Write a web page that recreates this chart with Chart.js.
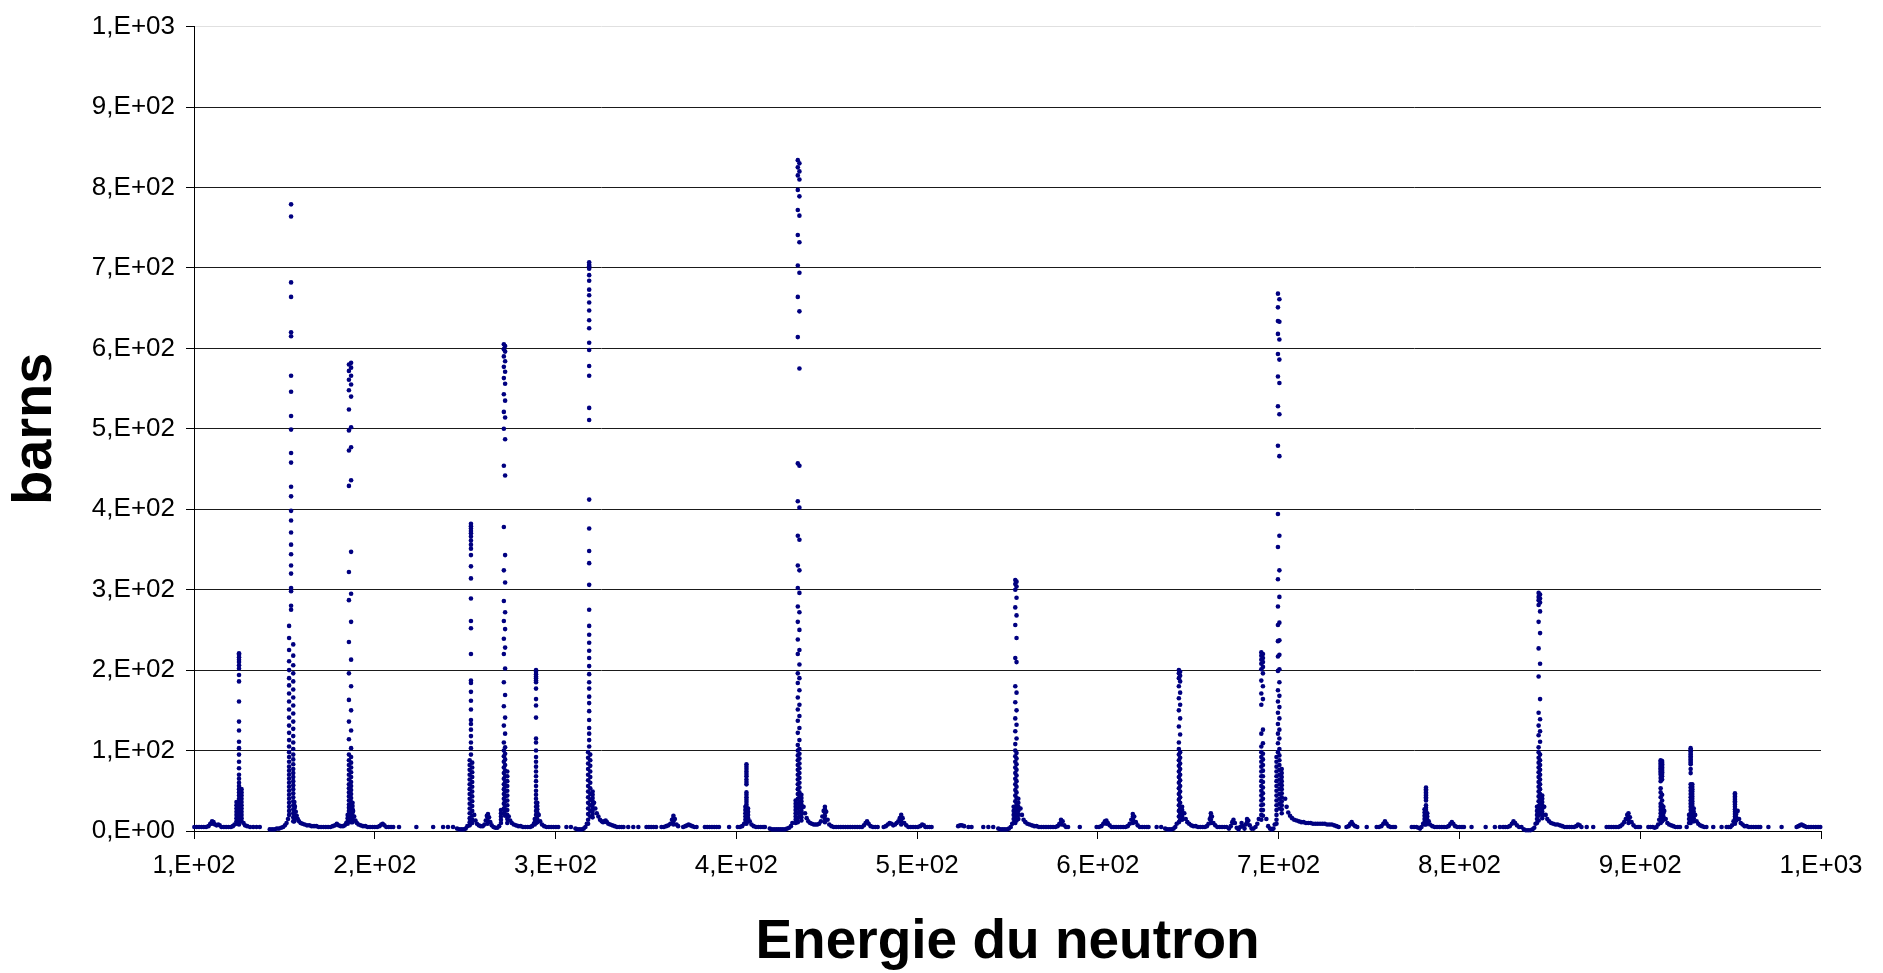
<!DOCTYPE html>
<html>
<head>
<meta charset="utf-8">
<title>Energie du neutron</title>
<script src="https://cdn.jsdelivr.net/npm/chart.js@4.4.1/dist/chart.umd.min.js"></script>
<style>
  html, body { margin: 0; padding: 0; background: #fff; }
  #wrap { width: 1883px; height: 973px; }
</style>
</head>
<body>
<div id="wrap"><canvas id="xsChart" width="1883" height="973"></canvas></div>
<script>
// axis ticks (eV and barns)
const energyTicks = [100, 200, 300, 400, 500, 600, 700, 800, 900, 1000];
const barnTicks = [0, 100, 200, 300, 400, 500, 600, 700, 800, 900, 1000];

// continuum between the resonances (energy in eV, cross section in barns)
const cont100E = [100.2, 101.5, 102.8, 104.1, 105.4, 106.7, 108.0, 109.0, 110.0, 110.8, 111.6, 112.5, 113.4, 114.2, 115.2, 116.5, 117.8, 119.1, 120.4, 121.5, 122.4,
  127.4, 128.2, 129.4, 131.0, 132.8, 134.6, 136.4,
  141.9, 143.2, 144.5, 145.8, 147.0, 148.2, 149.3, 150.3, 151.2, 152.0,
  155.8, 156.3, 156.8, 157.4, 158.1, 159.0, 160.0, 161.2, 162.5, 163.8, 165.1, 166.4, 167.7, 169.0, 170.3, 171.6, 172.9, 174.2, 175.5, 176.8, 178.0, 179.0, 180.0, 181.2, 182.4, 183.4, 184.2,
  188.0, 188.6, 189.3, 190.1, 191.0, 192.2, 193.5, 194.8, 196.1, 197.4, 198.7];
const cont100S = [5, 5, 5, 5, 5, 5, 6, 9, 12, 11, 8, 7, 8, 7, 5, 5, 5, 5, 5, 6, 8,
  10, 7, 6, 5, 5, 5, 5,
  2, 2, 2, 3, 3, 4, 5, 7, 10, 15,
  30, 24, 19, 15, 12, 10, 9, 8, 7, 7, 6, 6, 6, 5, 5, 5, 5, 5, 5, 6, 7, 9, 7, 6, 6, 7, 10,
  25, 18, 13, 10, 8, 7, 6, 6, 5, 5, 5];

const cont200E = [200.0, 201.3, 202.6, 203.6, 204.4, 205.3, 206.4, 207.7, 209.0, 210.2,
  213.4, 223.0, 232.3, 237.8, 240.5, 243.3,
  245.5, 246.8, 248.0, 249.2, 250.3, 251.2,
  255.0, 255.7, 256.5, 257.5, 258.6, 259.7, 260.7, 261.4, 262.0, 262.6, 263.2, 263.9, 264.7, 265.7, 266.7, 267.8, 268.8,
  274.1, 274.9, 275.8, 276.9, 278.1, 279.4, 280.7, 282.0, 283.3, 284.6, 285.9, 287.0, 288.0,
  290.7, 291.5, 292.5, 293.7, 295.0, 296.3, 297.6, 298.9];
const cont200S = [5, 5, 6, 8, 9, 7, 5, 5, 5, 5,
  5, 5, 5, 5, 5, 5,
  3, 2, 2, 2, 3, 6,
  20, 13, 9, 7, 6, 6, 8, 13, 19, 21, 17, 11, 7, 5, 4, 4, 6,
  18, 13, 10, 8, 7, 6, 6, 5, 5, 5, 5, 6, 9,
  20, 12, 8, 6, 5, 5, 5, 5];

const cont300E = [300.2, 301.5, 306.0, 308.5,
  311.0, 312.2, 313.4, 314.6, 315.6, 316.5, 317.3,
  321.3, 322.0, 322.8, 323.7, 324.6, 325.5, 326.3, 327.0, 327.7, 328.4, 329.2, 330.2, 331.4, 332.7, 334.0, 335.3, 336.6, 337.6,
  340.2, 343.0, 345.8, 350.3, 351.6, 352.9, 354.2, 355.6,
  358.6, 359.9, 361.2, 362.4, 363.5, 364.4, 365.2, 366.0, 366.9, 367.8,
  370.6, 371.8, 372.8, 373.6, 374.5, 375.6, 376.8, 378.0,
  382.6, 383.9, 385.2, 386.5, 387.8, 389.1, 390.4, 396.0];
const cont300S = [5, 5, 5, 5,
  3, 2, 2, 2, 3, 5, 9,
  35, 28, 22, 18, 14, 12, 11, 12, 13, 11, 9, 8, 7, 6, 5, 5, 5, 5,
  5, 5, 5, 5, 5, 5, 5, 5,
  5, 5, 6, 7, 9, 14, 19, 15, 8, 6,
  5, 6, 7, 8, 7, 6, 5, 5,
  5, 5, 5, 5, 5, 5, 5, 5];

const cont400E = [400.8, 402.0, 403.2, 404.3,
  407.4, 408.4, 409.6, 410.9, 412.2, 413.5, 414.8, 415.8,
  418.5, 419.7, 420.9, 422.1, 423.3, 424.5, 425.7, 426.9, 428.1, 429.2, 430.2, 431.0,
  437.2, 438.0, 438.9, 439.8, 440.8, 441.8, 442.8, 443.8, 444.8, 445.8, 446.8, 447.6, 448.3, 449.0, 449.7, 450.5, 451.4, 452.6, 453.9, 455.2, 456.5, 457.8, 459.1, 460.4, 461.7, 463.0, 464.3, 465.6, 466.9, 468.2,
  469.5, 470.6, 471.5, 472.3, 473.2, 474.3, 475.6, 476.9, 478.2,
  481.5, 482.7, 483.8, 484.8, 485.8, 486.8, 487.8, 488.7, 489.6, 490.4, 491.2, 492.0, 492.9, 494.0, 495.2, 496.5, 497.8, 499.1];
const cont400S = [5, 5, 6, 9,
  12, 8, 6, 5, 5, 5, 5, 5,
  3, 2, 2, 2, 2, 2, 2, 2, 3, 4, 6, 10,
  30, 22, 16, 12, 10, 9, 8, 8, 8, 9, 12, 18, 25, 30, 24, 14, 8, 6, 5, 5, 5, 5, 5, 5, 5, 5, 5, 5, 5, 5,
  5, 7, 10, 12, 9, 6, 5, 5, 5,
  5, 6, 8, 10, 9, 7, 8, 10, 12, 16, 20, 16, 10, 7, 5, 5, 5, 5];

const cont500E = [500.4, 501.7, 502.8, 503.7, 504.6, 505.6, 506.8, 508.0,
  522.7, 523.8, 524.8, 526.0, 528.4, 530.1, 536.6, 539.4, 542.1,
  544.9, 546.1, 547.3, 548.5, 549.7, 550.8, 551.8, 552.6,
  557.2, 558.0, 558.9, 559.9, 561.0, 562.2, 563.5, 564.8, 566.1, 567.4, 568.7, 570.0, 571.3, 572.6, 573.9, 575.2, 576.5, 577.7, 578.7, 579.6, 580.5, 581.4, 582.4, 583.5,
  590.0];
const cont500S = [5, 6, 8, 7, 5, 5, 5, 5,
  6, 7, 7, 6, 5, 5, 5, 5, 5,
  3, 2, 2, 2, 2, 3, 5, 9,
  28, 20, 14, 11, 9, 8, 7, 6, 6, 5, 5, 5, 5, 5, 5, 5, 5, 6, 9, 14, 12, 7, 5, 5,
  5];

const cont600E = [599.3, 600.6, 601.9, 603.0, 603.9, 604.7, 605.5, 606.5, 607.6,
  608.8, 610.1, 611.4, 612.7, 614.0, 615.3, 616.5, 617.6, 618.5, 619.3, 620.1, 621.0, 622.0, 623.2, 624.5, 625.8, 627.1, 628.0,
  632.5, 635.0,
  637.2, 638.4, 639.6, 640.8, 641.9, 642.8, 643.6,
  647.8, 648.6, 649.5, 650.5, 651.6, 652.8, 654.1, 655.4, 656.7, 658.0, 659.2,
  660.3, 661.2, 661.9, 662.5, 663.1, 663.9, 664.9, 666.1, 667.4, 668.7, 670.0, 671.2,
  672.5, 673.5, 674.3, 675.0, 675.8, 676.8, 677.8, 678.7, 679.5, 680.3, 681.1, 681.8, 682.5, 683.2, 684.0, 685.0, 686.1, 687.2, 688.2, 689.0,
  693.2, 694.2, 695.2, 696.2, 697.1, 697.8];
const cont600S = [5, 5, 6, 9, 12, 13, 10, 7, 5,
  5, 5, 5, 5, 5, 5, 6, 9, 14, 21, 18, 11, 7, 5, 5, 5, 5, 5,
  5, 5,
  3, 2, 2, 2, 3, 5, 9,
  22, 15, 11, 9, 7, 6, 6, 5, 5, 5, 5,
  6, 9, 15, 22, 18, 10, 7, 5, 5, 5, 5, 5,
  3, 6, 11, 14, 10, 4, 2, 5, 10, 6, 3, 8, 15, 13, 7, 3, 3, 5, 9, 15,
  15, 6, 3, 2, 3, 8];

const cont700E = [703.6, 704.4, 705.3, 706.3, 707.4, 708.6, 709.9, 711.2, 712.5, 713.8, 715.1, 716.4, 717.7, 719.0, 720.3, 721.6, 722.9, 724.2, 725.5, 726.8, 728.1, 729.4, 730.7, 732.0, 733.2,
  737.5, 738.7, 739.6, 740.4, 741.2, 742.3, 743.5, 748.7,
  754.2, 755.5, 756.8, 757.9, 758.8, 759.7, 760.8, 762.0, 763.3, 764.4,
  773.6, 774.9, 776.2, 777.3, 778.2, 779.0, 779.9,
  783.0, 783.7, 785.0, 786.3, 787.6, 788.9, 790.2, 791.5, 792.8, 794.0, 795.0, 795.8, 796.6, 797.6, 798.8];
const cont700S = [40, 30, 23, 19, 16, 14, 13, 12, 11, 11, 10, 10, 10, 9, 9, 9, 9, 9, 9, 8, 8, 8, 7, 6, 5,
  5, 6, 9, 11, 8, 6, 5, 5,
  5, 5, 6, 9, 12, 9, 6, 5, 5, 5,
  5, 5, 5, 4, 3, 5, 9,
  12, 8, 6, 5, 5, 5, 5, 5, 5, 6, 9, 11, 9, 6, 5];

const cont800E = [800.1, 801.4, 802.5, 806.7, 814.5, 819.6, 822.4,
  824.2, 825.4, 826.6, 827.8, 829.0, 829.9, 830.8, 831.8, 833.0, 834.3,
  835.6, 836.8, 838.0, 839.2, 840.4, 841.4, 842.1,
  846.9, 847.7, 848.6, 849.6, 850.7, 851.9, 853.1, 854.3, 855.6, 856.9, 858.2, 859.5, 860.8, 862.1, 863.4, 864.6, 865.6, 866.5, 867.5,
  870.4, 874.0,
  881.4, 882.7, 884.0, 885.3, 886.6, 887.9, 889.0, 890.1, 891.1, 892.0, 892.8, 893.5, 894.3, 895.2, 896.3, 897.5, 898.8, 899.9];
const cont800S = [5, 5, 5, 5, 5, 5, 5,
  5, 5, 5, 6, 9, 12, 10, 7, 5, 5,
  2, 1, 1, 1, 2, 4, 9,
  30, 20, 15, 12, 10, 9, 8, 8, 7, 6, 5, 5, 5, 5, 5, 6, 8, 7, 5,
  5, 5,
  5, 5, 5, 5, 5, 5, 6, 8, 11, 15, 20, 22, 17, 11, 7, 5, 5, 5];

const cont900E = [904.5, 905.7, 906.9, 908.0, 909.0, 909.9, 910.5,
  913.3, 914.1, 915.0, 916.0, 917.1, 918.3, 919.5, 920.8, 922.0,
  925.7,
  930.4, 931.2, 932.1, 933.1, 934.2, 935.4, 936.6,
  940.4, 945.0,
  947.8, 948.9, 949.9, 950.8, 951.6,
  953.9, 954.7, 955.6, 956.6, 957.7, 958.9, 960.1, 961.4, 962.7, 964.0, 965.3, 966.4,
  970.9, 978.2,
  986.5, 987.5, 988.4, 989.2, 990.0, 990.9, 992.0, 993.2, 994.5, 995.8, 997.1, 998.4, 999.6];
const cont900S = [5, 5, 5, 4, 5, 8, 14,
  25, 15, 10, 8, 7, 6, 5, 5, 5,
  5,
  20, 12, 9, 7, 6, 5, 5,
  5, 5,
  5, 5, 5, 7, 12,
  25, 15, 10, 8, 6, 6, 5, 5, 5, 5, 5, 5,
  5, 5,
  5, 6, 7, 8, 7, 6, 5, 5, 5, 5, 5, 5, 5];

// small bumps: extra dots stacked on the little resonances
const bumpE = [110.0, 262.4, 262.4, 262.4, 365.2, 365.2, 365.2, 449.0, 449.0, 449.0, 449.0, 449.0, 491.2, 491.2, 491.2, 579.7, 579.7, 604.7, 619.4, 619.4, 619.4, 662.5, 662.5, 662.5, 675.0, 682.5, 893.5, 893.5, 893.5];
const bumpS = [9, 17, 13, 9, 16, 12, 8, 27, 23, 19, 15, 11, 16, 12, 8, 11, 8, 9, 18, 14, 10, 18, 14, 10, 10, 11, 18, 14, 10];

// resonances: each one is a few columns of dots (column energy, then the dots in it)
const r125E = [123.5, 124.9, 126.3];
const r125S = [
  [36, 32, 28, 24, 20, 16, 12, 9],
  [221, 219, 216, 213, 210, 206, 202, 194, 186, 161, 136, 125, 111, 103, 95, 86, 78, 70, 65, 60, 56, 52, 48, 44, 40, 36, 32, 28, 24, 20, 16, 12, 8],
  [52, 48, 44, 40, 36, 32, 28, 24, 20, 16, 12]];

const r154E = [152.6, 153.7, 154.9, 155.5];
const r154S = [
  [255, 240, 225, 211, 200, 190, 181, 171, 161, 151, 141, 131, 122, 113, 105, 98, 92, 86, 80, 75, 70, 65, 60, 55, 50, 45, 40, 35, 30, 25, 20],
  [779, 764, 682, 664, 620, 615, 566, 546, 516, 499, 470, 458, 428, 416, 398, 386, 371, 356, 344, 330, 320, 302, 298, 280, 275],
  [232, 218, 206, 196, 186, 176, 166, 156, 146, 136, 127, 118, 110, 102, 95, 89, 83, 77, 72, 67, 62, 57, 52, 47, 42, 37, 32, 27, 22, 17, 12],
  [36, 32, 28, 24, 20, 16, 12]];

const r186E = [185.0, 185.7, 186.9, 187.7];
const r186S = [
  [20, 16, 12, 9],
  [580, 572, 561, 548, 524, 498, 473, 429, 322, 287, 235, 196, 163, 136, 114, 95, 88, 82, 76, 70, 64, 58, 53, 48, 43, 38, 33, 29, 25, 21, 17, 13],
  [582, 576, 566, 555, 540, 502, 477, 436, 347, 295, 260, 213, 180, 150, 125, 103, 92, 85, 79, 73, 67, 61, 56, 51, 46, 41, 36, 31, 27, 23, 19, 15, 11],
  [35, 31, 27, 23, 19, 15, 11]];

const r253E = [252.5, 253.2, 253.9];
const r253S = [
  [88, 82, 76, 70, 64, 58, 52, 46, 40, 34, 28, 22, 16, 11, 7],
  [382, 379, 376, 373, 370, 366, 361, 356, 351, 343, 329, 314, 289, 261, 252, 220, 187, 184, 173, 162, 151, 138, 133, 126, 118, 110, 103, 95],
  [85, 79, 73, 67, 61, 55, 49, 43, 37, 31, 25, 19, 14, 10]];

const r272E = [269.8, 271.4, 272.1, 273.3];
const r272S = [
  [26, 22, 18, 14, 10],
  [605, 599, 590, 577, 563, 543, 521, 500, 454, 378, 324, 286, 261, 239, 220, 185, 155, 131, 110, 100, 93, 86, 79, 72, 65, 58, 52, 46, 40, 34, 28, 22],
  [603, 596, 584, 571, 556, 535, 514, 487, 442, 343, 309, 272, 251, 228, 202, 169, 141, 121, 104, 96, 89, 82, 75, 68, 61, 55, 49, 43, 37, 31, 25, 19],
  [74, 68, 62, 56, 50, 44, 38, 32, 26, 20, 15, 10]];

const r289E = [288.5, 289.2, 289.9];
const r289S = [
  [15, 11, 8],
  [200, 198, 195, 192, 190, 187, 185, 177, 164, 156, 141, 115, 110, 100, 92, 86, 80, 74, 68, 62, 56, 50, 45, 40, 35, 30, 25, 20, 15, 10],
  [35, 31, 27, 23, 19, 15, 11]];

const r319E = [318.0, 318.6, 319.2, 320.5];
const r319S = [
  [98, 91, 84, 77, 70, 63, 56, 49, 42, 35, 28, 21, 14, 9],
  [707, 704, 702, 699, 691, 684, 673, 666, 657, 647, 635, 625, 607, 598, 578, 566, 526, 511, 412, 376, 348, 333, 306, 275, 255, 244, 234, 224, 215, 205, 195, 185, 177, 167, 159, 149, 138, 128, 121, 113, 105],
  [95, 88, 81, 74, 67, 60, 53, 46, 39, 32, 25, 18],
  [49, 45, 41, 37, 33, 29, 25, 21, 17]];

const r406E = [405.0, 405.6, 406.5];
const r406S = [
  [30, 26, 22, 18, 14, 10],
  [83, 80, 77, 74, 71, 68, 64, 61, 58, 48, 45, 42, 39, 36, 33, 30, 27, 24, 21, 18, 15, 12, 9],
  [28, 24, 20, 16, 12]];

const r435E = [432.8, 434.0, 434.9, 436.0];
const r435S = [
  [38, 34, 30, 26, 22, 18, 14, 10],
  [834, 825, 815, 797, 772, 741, 703, 664, 614, 457, 410, 367, 330, 302, 279, 260, 238, 220, 196, 184, 166, 151, 137, 122, 107, 100, 94, 88, 82, 76, 70, 64, 58, 52, 46, 40, 34, 28, 22, 16, 11],
  [830, 820, 810, 789, 765, 732, 694, 646, 575, 454, 402, 362, 324, 296, 272, 250, 225, 207, 190, 175, 157, 143, 128, 113, 102, 96, 90, 84, 78, 72, 66, 60, 54, 48, 42, 36, 30, 24, 18],
  [45, 41, 37, 33, 29, 25, 21, 17, 13]];

const r555E = [553.4, 554.3, 555.0, 556.0];
const r555S = [
  [30, 25, 20, 15, 10],
  [312, 307, 300, 278, 256, 215, 180, 160, 140, 124, 108, 100, 93, 86, 79, 72, 65, 58, 51, 44, 37, 30, 23, 16, 10],
  [310, 304, 290, 268, 240, 210, 172, 150, 132, 115, 97, 90, 83, 76, 69, 62, 55, 48, 41, 34, 27, 20, 13],
  [40, 35, 30, 25, 20, 15]];

const r645E = [644.8, 645.5, 646.6];
const r645S = [
  [200, 196, 190, 180, 165, 150, 130, 110, 102, 95, 88, 81, 74, 67, 60, 53, 46, 39, 32, 25, 18, 11],
  [198, 193, 186, 172, 157, 140, 120, 98, 91, 84, 77, 70, 63, 56, 49, 42, 35, 28, 21, 14],
  [30, 26, 22, 18, 14]];

const r691E = [690.4, 691.3];
const r691S = [
  [222, 218, 213, 208, 201, 187, 171, 157, 121, 105, 98, 92, 86, 80, 74, 68, 62, 56, 50, 44, 38, 32, 26, 20, 14],
  [220, 215, 210, 204, 196, 180, 164, 126, 109, 96, 89, 82, 75, 68, 61, 54, 47, 40, 33, 26, 19]];

const r700E = [698.8, 699.6, 700.4, 701.7];
const r700S = [
  [92, 86, 80, 74, 68, 62, 56, 50, 44, 38, 32, 26, 20, 14, 9],
  [668, 651, 634, 618, 593, 565, 528, 479, 394, 353, 313, 279, 256, 236, 217, 199, 175, 161, 147, 133, 121, 109, 98],
  [661, 633, 611, 586, 557, 518, 466, 367, 324, 291, 259, 237, 219, 201, 185, 168, 154, 140, 126, 115, 102, 94, 88, 82, 76, 70, 64, 58, 52, 46, 40, 34, 28],
  [77, 72, 67, 62, 57, 52, 47, 42, 37, 32, 27, 22]];

const r781E = [780.7, 781.5, 782.2];
const r781S = [
  [27, 23, 19, 15, 11, 8],
  [54, 52, 50, 48, 46, 44, 42, 40, 38, 32, 29, 26, 23, 20, 17, 14, 11, 8],
  [22, 18, 14, 10]];

const r845E = [842.9, 843.8, 844.6, 845.8];
const r845S = [
  [30, 25, 20, 15, 10],
  [296, 291, 287, 281, 260, 227, 192, 147, 131, 119, 104, 98, 91, 85, 79, 73, 67, 61, 55, 49, 43, 37, 31, 25, 19, 13],
  [294, 289, 284, 273, 246, 208, 164, 139, 124, 111, 95, 88, 82, 76, 70, 64, 58, 52, 46, 40, 34, 28, 22],
  [44, 40, 36, 32, 28, 24, 20, 16]];

const r912E = [911.3, 912.1, 912.8];
const r912S = [
  [88, 86, 84, 82, 80, 78, 76, 74, 72, 70, 66, 62, 53, 48, 42, 34, 30, 26, 22, 18, 14, 10],
  [87, 85, 83, 81, 79, 77, 75, 73, 71, 68, 64, 45, 38, 32, 28, 24, 20, 16, 12],
  [30, 26, 22, 18, 14]];

const r928E = [927.0, 927.9, 928.8, 929.6];
const r928S = [
  [20, 15, 10],
  [103, 101, 99, 97, 95, 93, 91, 89, 87, 85, 83, 77, 72, 58, 54, 50, 46, 42, 38, 34, 30, 26, 22, 18, 14, 10],
  [58, 55, 52, 49, 46, 43, 40, 37, 34, 31, 28, 25, 22, 19, 16, 13],
  [28, 24, 20, 16, 12]];

const r952E = [952.4, 953.1];
const r952S = [
  [47, 45, 43, 41, 39, 37, 35, 33, 30, 27, 24, 21, 18, 15, 12, 9],
  [25, 21, 17, 13]];

// build the point list for the scatter dataset
const points = [];
const continuum = [[cont100E, cont100S], [cont200E, cont200S], [cont300E, cont300S], [cont400E, cont400S],
  [cont500E, cont500S], [cont600E, cont600S], [cont700E, cont700S], [cont800E, cont800S], [cont900E, cont900S], [bumpE, bumpS]];
continuum.forEach(([E, S]) => {
  E.forEach((e, i) => { if (S[i] !== undefined) points.push({ x: e, y: S[i] }); });
});
const resonances = [[r125E, r125S], [r154E, r154S], [r186E, r186S], [r253E, r253S], [r272E, r272S], [r289E, r289S],
  [r319E, r319S], [r406E, r406S], [r435E, r435S], [r555E, r555S], [r645E, r645S], [r691E, r691S], [r700E, r700S],
  [r781E, r781S], [r845E, r845S], [r912E, r912S], [r928E, r928S], [r952E, r952S]];
resonances.forEach(([E, S]) => {
  E.forEach((e, i) => S[i].forEach(s => points.push({ x: e, y: s })));
});

// Excel style labels: 1,E+02
function sciLabel(v) {
  if (v === 0) return '0,E+00';
  const exp = Math.floor(Math.log10(v) + 1e-9);
  const mant = Math.round(v / Math.pow(10, exp));
  return mant + ',E+' + String(exp).padStart(2, '0');
}

const FONT = "'Liberation Sans', Arial, sans-serif";

const config = {
  type: 'scatter',
  data: {
    datasets: [{
      label: 'barns',
      data: points,
      backgroundColor: '#000080',
      borderColor: '#000080',
      borderWidth: 0,
      pointRadius: 2.3,
      clip: 4
    }]
  },
  options: {
    responsive: false,
    animation: false,
    events: [],
    layout: { padding: { left: 0, right: 62, top: 22, bottom: 0 } },
    plugins: {
      legend: { display: false },
      tooltip: { enabled: false }
    },
    scales: {
      x: {
        type: 'linear',
        min: energyTicks[0],
        max: energyTicks[energyTicks.length - 1],
        afterBuildTicks: s => { s.ticks = energyTicks.map(v => ({ value: v })); },
        afterFit: s => { s.height = 142; },
        grid: { drawOnChartArea: false, drawTicks: true, tickLength: 8, color: '#000' },
        border: { display: true, color: '#000', width: 1 },
        ticks: {
          color: '#000',
          padding: 11,
          maxRotation: 0,
          autoSkip: false,
          font: { family: FONT, size: 26 },
          callback: v => sciLabel(v)
        },
        title: {
          display: true,
          text: 'Energie du neutron',
          color: '#000',
          font: { family: FONT, size: 55, weight: 'bold', lineHeight: 1.1 },
          padding: { top: 0, bottom: 0 }
        }
      },
      y: {
        type: 'linear',
        min: barnTicks[0],
        max: barnTicks[barnTicks.length - 1],
        afterBuildTicks: s => { s.ticks = barnTicks.map(v => ({ value: v })); },
        afterFit: s => { s.width = 194; },
        grid: {
          drawTicks: true,
          tickLength: 8,
          tickColor: '#000',
          color: c => (c.tick && c.tick.value === 1000 ? '#e0e0e0' : '#1a1a1a'),
          lineWidth: 1
        },
        border: { display: true, color: '#000', width: 1 },
        ticks: {
          color: '#000',
          padding: 11,
          font: { family: FONT, size: 26 },
          callback: v => sciLabel(v)
        },
        title: {
          display: true,
          text: 'barns',
          color: '#000',
          font: { family: FONT, size: 56, weight: 'bold', lineHeight: 1.2 },
          padding: { top: 2, bottom: 0 }
        }
      }
    }
  }
};

new Chart(document.getElementById('xsChart'), config);
</script>
</body>
</html>
